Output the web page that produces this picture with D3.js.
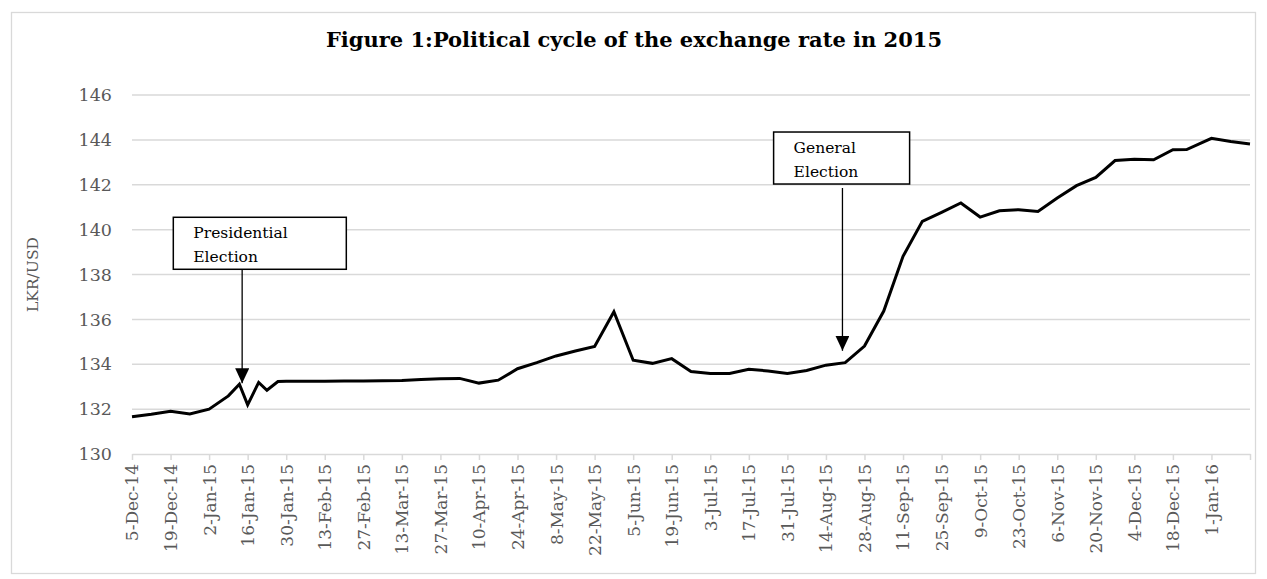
<!DOCTYPE html>
<html>
<head>
<meta charset="utf-8">
<script src="https://cdn.jsdelivr.net/npm/d3@7"></script>
<style>
  html, body { margin: 0; padding: 0; background: #fff; }
  svg { display: block; }
</style>
</head>
<body>
<svg id="chart"></svg>
<script>
// Weekly LKR/USD rate, with extra days around the presidential election
const dates = [
  '5-Dec-14','12-Dec-14','19-Dec-14','26-Dec-14','2-Jan-15','9-Jan-15','13-Jan-15','16-Jan-15',
  '20-Jan-15','23-Jan-15','27-Jan-15','30-Jan-15','6-Feb-15','13-Feb-15','20-Feb-15','27-Feb-15',
  '6-Mar-15','13-Mar-15','20-Mar-15','27-Mar-15','3-Apr-15','10-Apr-15','17-Apr-15','24-Apr-15',
  '1-May-15','8-May-15','15-May-15','22-May-15','29-May-15','5-Jun-15','12-Jun-15','19-Jun-15',
  '26-Jun-15','3-Jul-15','10-Jul-15','17-Jul-15','24-Jul-15','31-Jul-15','7-Aug-15','14-Aug-15',
  '21-Aug-15','28-Aug-15','4-Sep-15','11-Sep-15','18-Sep-15','25-Sep-15','2-Oct-15','9-Oct-15',
  '16-Oct-15','23-Oct-15','30-Oct-15','6-Nov-15','13-Nov-15','20-Nov-15','27-Nov-15','4-Dec-15',
  '11-Dec-15','18-Dec-15','23-Dec-15','1-Jan-16','8-Jan-16','15-Jan-16'
];
const rates = [
  131.66,131.77,131.90,131.78,132.00,132.59,133.11,132.19,
  133.19,132.84,133.23,133.24,133.24,133.24,133.25,133.25,
  133.26,133.28,133.32,133.35,133.37,133.16,133.29,133.80,
  134.07,134.37,134.59,134.79,136.34,134.18,134.04,134.25,
  133.68,133.59,133.59,133.78,133.70,133.59,133.72,133.96,
  134.07,134.81,136.37,138.81,140.37,140.77,141.19,140.56,
  140.84,140.89,140.81,141.41,141.96,142.33,143.08,143.14,
  143.11,143.56,143.57,144.07,143.93,143.82
];
const yTicks = [130, 132, 134, 136, 138, 140, 142, 144, 146];

// annotations: label lines, date pointed at, box corner (date, value of top-left)
const notes = [
  { lines: ['Presidential', 'Election'], at: '14-Jan-15', box: ['20-Dec-14', 140.55], tip: 133.15 },
  { lines: ['General', 'Election'], at: '20-Aug-15', box: ['26-Jul-15', 144.35], tip: 134.6 }
];

const FONT = 'DejaVu Serif, serif';
const W = 1267, H = 579;
const margin = { top: 95, right: 17, bottom: 125, left: 132 };
const parse = d3.timeParse('%d-%b-%y');
const fmt = d3.timeFormat('%-d-%b-%y');
const data = dates.map((d, i) => ({ date: parse(d), v: rates[i] }));

const svg = d3.select('#chart').attr('width', W).attr('height', H);

// outer chart border
svg.append('rect')
  .attr('x', 11.5).attr('y', 12.5)
  .attr('width', W - 23).attr('height', H - 18)
  .attr('fill', '#fff').attr('stroke', '#d9d9d9').attr('stroke-width', 1.3);

const x = d3.scaleTime()
  .domain(d3.extent(data, d => d.date))
  .range([margin.left, W - margin.right]);
const y = d3.scaleLinear()
  .domain([130, 146])
  .range([H - margin.bottom, margin.top]);

// gridlines
svg.append('g').selectAll('line')
  .data(yTicks.slice(1))
  .enter().append('line')
  .attr('x1', x.range()[0]).attr('x2', x.range()[1])
  .attr('y1', d => y(d)).attr('y2', d => y(d))
  .attr('stroke', '#d9d9d9').attr('stroke-width', 1.5);

// y labels
svg.append('g').selectAll('text')
  .data(yTicks)
  .enter().append('text')
  .attr('x', 112).attr('y', d => y(d))
  .attr('dy', '0.35em')
  .attr('text-anchor', 'end')
  .attr('font-family', FONT)
  .attr('font-size', '17.5px')
  .attr('fill', '#595959')
  .text(d => d);

// x axis, tick every 14 days
const tickDates = d3.timeDay.range(x.domain()[0], d3.timeDay.offset(x.domain()[1], 1), 14);
const lastTick = +tickDates[tickDates.length - 1];
const xAxis = d3.axisBottom(x)
  .tickValues(tickDates)
  .tickSize(6)
  .tickSizeOuter(0)
  .tickFormat(d => +d === lastTick ? '' : fmt(d));

const gx = svg.append('g')
  .attr('transform', `translate(0,${y(130)})`)
  .call(xAxis);
gx.select('.domain').attr('stroke', '#d9d9d9').attr('stroke-width', 1.5);
gx.selectAll('.tick line').attr('stroke', '#d9d9d9').attr('stroke-width', 1.5);
gx.selectAll('.tick text')
  .attr('font-family', FONT)
  .attr('font-size', '17px')
  .attr('fill', '#595959')
  .attr('text-anchor', 'end')
  .attr('transform', 'rotate(-90)')
  .attr('x', -10).attr('y', 0)
  .attr('dy', '0.35em');

// the series
const line = d3.line().x(d => x(d.date)).y(d => y(d.v));
svg.append('path')
  .datum(data)
  .attr('d', line)
  .attr('fill', 'none')
  .attr('stroke', '#000')
  .attr('stroke-width', 3)
  .attr('stroke-linejoin', 'miter');

// y axis title
svg.append('text')
  .attr('transform', `translate(38,${(y(130) + y(146)) / 2}) rotate(-90)`)
  .attr('text-anchor', 'middle')
  .attr('font-family', FONT)
  .attr('font-size', '15.5px')
  .attr('fill', '#595959')
  .text('LKR/USD');

// title
svg.append('text')
  .attr('x', 634).attr('y', 47)
  .attr('text-anchor', 'middle')
  .attr('font-family', FONT)
  .attr('font-weight', 'bold')
  .attr('font-size', '21px')
  .attr('fill', '#000')
  .text('Figure 1:Political cycle of the exchange rate in 2015');

// annotation boxes with arrows
const defs = svg.append('defs');
defs.append('marker')
  .attr('id', 'tri')
  .attr('viewBox', '0 0 14 15')
  .attr('refX', 7).attr('refY', 15)
  .attr('markerWidth', 14).attr('markerHeight', 15)
  .attr('markerUnits', 'userSpaceOnUse')
  .attr('orient', '0')
  .append('path')
  .attr('d', 'M0,0 L14,0 L7,15 z')
  .attr('fill', '#000');

notes.forEach(n => {
  const bx = x(parse(n.box[0])), by = y(n.box[1]);
  const bw = n.lines[0] === 'General' ? 136 : 173, bh = 52;
  const g = svg.append('g');
  g.append('rect')
    .attr('x', bx).attr('y', by)
    .attr('width', bw).attr('height', bh)
    .attr('fill', '#fff').attr('stroke', '#000').attr('stroke-width', 1.5);
  n.lines.forEach((t, i) => {
    g.append('text')
      .attr('x', bx + 20).attr('y', by + 21 + i * 24)
      .attr('font-family', FONT)
      .attr('font-size', '15.5px')
      .attr('fill', '#000')
      .text(t);
  });
  const ax = x(parse(n.at));
  g.append('line')
    .attr('x1', ax).attr('x2', ax)
    .attr('y1', by + bh + (n.lines[0] === 'General' ? 4 : 0))
    .attr('y2', y(n.tip))
    .attr('stroke', '#000').attr('stroke-width', 1.3)
    .attr('marker-end', 'url(#tri)');
});
</script>
</body>
</html>
